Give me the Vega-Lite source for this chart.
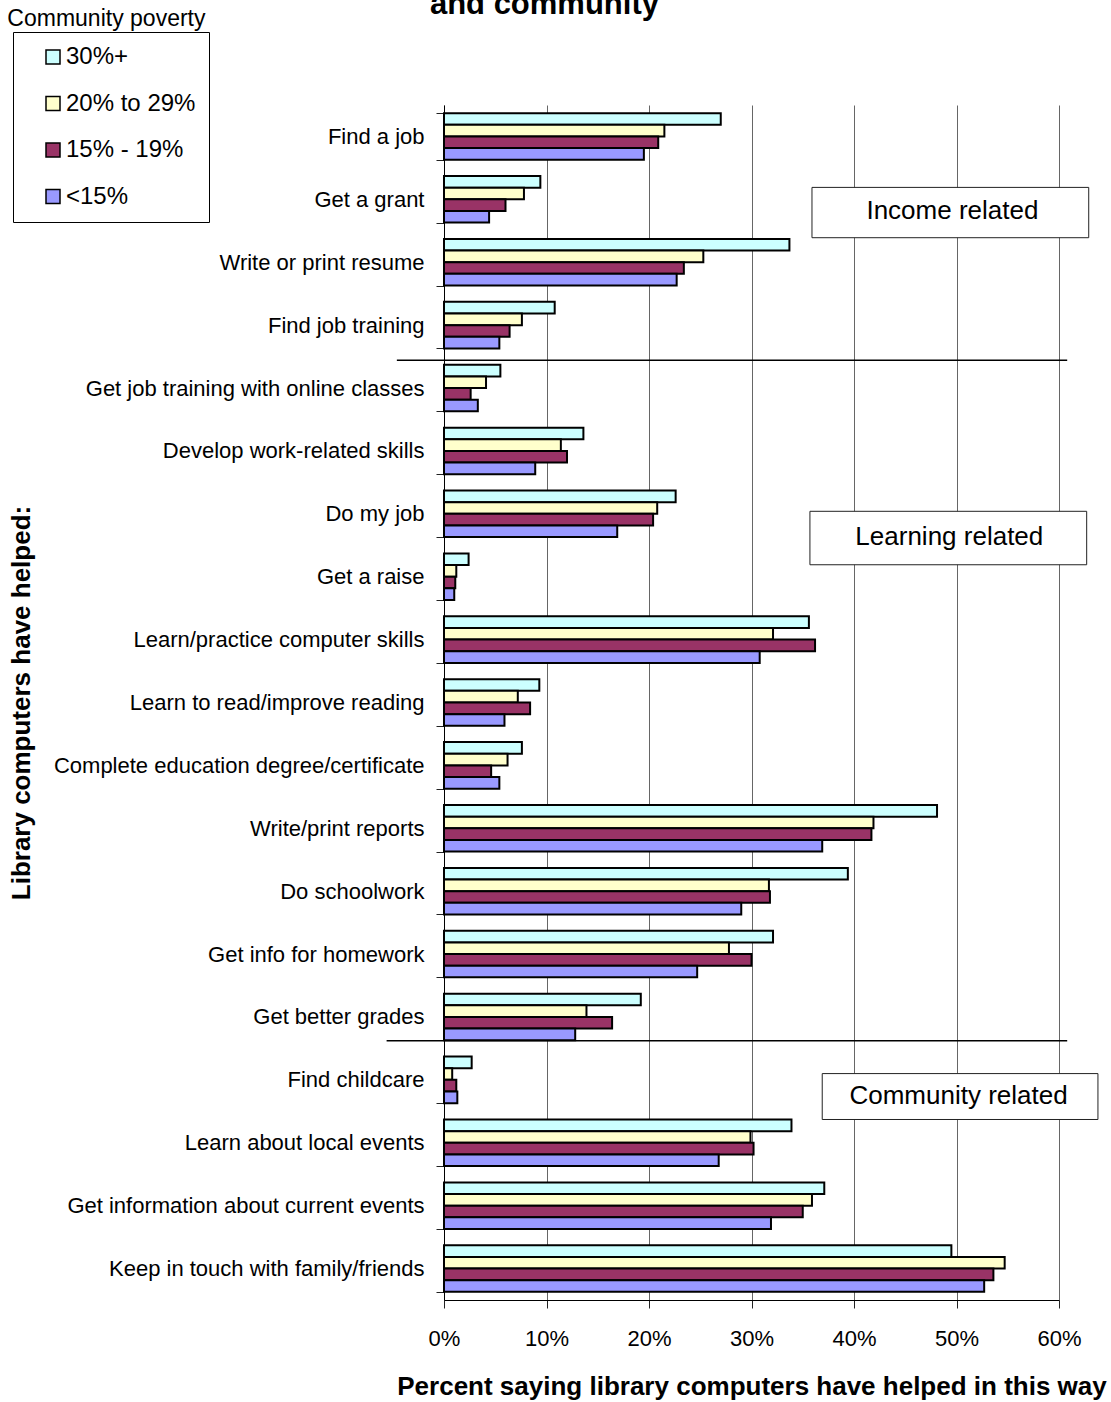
{
  "$schema": "https://vega.github.io/schema/vega-lite/v6.json",
  "width": 615,
  "height": 1195,
  "autosize": {"type": "none"},
  "padding": {"left": 444, "top": 105, "right": 52, "bottom": 102},
  "background": "white",
  "config": {
    "view": {"stroke": null},
    "font": "Liberation Sans"
  },
  "data": {
    "values": [
      {"activity": "Find a job", "group": "30%+", "pct": 27.0},
      {"activity": "Find a job", "group": "20% to 29%", "pct": 21.5},
      {"activity": "Find a job", "group": "15% - 19%", "pct": 20.9},
      {"activity": "Find a job", "group": "<15%", "pct": 19.5},
      {"activity": "Get a grant", "group": "30%+", "pct": 9.4},
      {"activity": "Get a grant", "group": "20% to 29%", "pct": 7.8},
      {"activity": "Get a grant", "group": "15% - 19%", "pct": 6.0},
      {"activity": "Get a grant", "group": "<15%", "pct": 4.4},
      {"activity": "Write or print resume", "group": "30%+", "pct": 33.7},
      {"activity": "Write or print resume", "group": "20% to 29%", "pct": 25.3},
      {"activity": "Write or print resume", "group": "15% - 19%", "pct": 23.4},
      {"activity": "Write or print resume", "group": "<15%", "pct": 22.7},
      {"activity": "Find job training", "group": "30%+", "pct": 10.8},
      {"activity": "Find job training", "group": "20% to 29%", "pct": 7.6},
      {"activity": "Find job training", "group": "15% - 19%", "pct": 6.4},
      {"activity": "Find job training", "group": "<15%", "pct": 5.4},
      {"activity": "Get job training with online classes", "group": "30%+", "pct": 5.5},
      {"activity": "Get job training with online classes", "group": "20% to 29%", "pct": 4.1},
      {"activity": "Get job training with online classes", "group": "15% - 19%", "pct": 2.6},
      {"activity": "Get job training with online classes", "group": "<15%", "pct": 3.3},
      {"activity": "Develop work-related skills", "group": "30%+", "pct": 13.6},
      {"activity": "Develop work-related skills", "group": "20% to 29%", "pct": 11.4},
      {"activity": "Develop work-related skills", "group": "15% - 19%", "pct": 12.0},
      {"activity": "Develop work-related skills", "group": "<15%", "pct": 8.9},
      {"activity": "Do my job", "group": "30%+", "pct": 22.6},
      {"activity": "Do my job", "group": "20% to 29%", "pct": 20.8},
      {"activity": "Do my job", "group": "15% - 19%", "pct": 20.4},
      {"activity": "Do my job", "group": "<15%", "pct": 16.9},
      {"activity": "Get a raise", "group": "30%+", "pct": 2.4},
      {"activity": "Get a raise", "group": "20% to 29%", "pct": 1.2},
      {"activity": "Get a raise", "group": "15% - 19%", "pct": 1.1},
      {"activity": "Get a raise", "group": "<15%", "pct": 1.0},
      {"activity": "Learn/practice computer skills", "group": "30%+", "pct": 35.6},
      {"activity": "Learn/practice computer skills", "group": "20% to 29%", "pct": 32.1},
      {"activity": "Learn/practice computer skills", "group": "15% - 19%", "pct": 36.2},
      {"activity": "Learn/practice computer skills", "group": "<15%", "pct": 30.8},
      {"activity": "Learn to read/improve reading", "group": "30%+", "pct": 9.3},
      {"activity": "Learn to read/improve reading", "group": "20% to 29%", "pct": 7.2},
      {"activity": "Learn to read/improve reading", "group": "15% - 19%", "pct": 8.4},
      {"activity": "Learn to read/improve reading", "group": "<15%", "pct": 5.9},
      {"activity": "Complete education degree/certificate", "group": "30%+", "pct": 7.6},
      {"activity": "Complete education degree/certificate", "group": "20% to 29%", "pct": 6.2},
      {"activity": "Complete education degree/certificate", "group": "15% - 19%", "pct": 4.6},
      {"activity": "Complete education degree/certificate", "group": "<15%", "pct": 5.4},
      {"activity": "Write/print reports", "group": "30%+", "pct": 48.1},
      {"activity": "Write/print reports", "group": "20% to 29%", "pct": 41.9},
      {"activity": "Write/print reports", "group": "15% - 19%", "pct": 41.7},
      {"activity": "Write/print reports", "group": "<15%", "pct": 36.9},
      {"activity": "Do schoolwork", "group": "30%+", "pct": 39.4},
      {"activity": "Do schoolwork", "group": "20% to 29%", "pct": 31.7},
      {"activity": "Do schoolwork", "group": "15% - 19%", "pct": 31.8},
      {"activity": "Do schoolwork", "group": "<15%", "pct": 29.0},
      {"activity": "Get info for homework", "group": "30%+", "pct": 32.1},
      {"activity": "Get info for homework", "group": "20% to 29%", "pct": 27.8},
      {"activity": "Get info for homework", "group": "15% - 19%", "pct": 30.0},
      {"activity": "Get info for homework", "group": "<15%", "pct": 24.7},
      {"activity": "Get better grades", "group": "30%+", "pct": 19.2},
      {"activity": "Get better grades", "group": "20% to 29%", "pct": 13.9},
      {"activity": "Get better grades", "group": "15% - 19%", "pct": 16.4},
      {"activity": "Get better grades", "group": "<15%", "pct": 12.8},
      {"activity": "Find childcare", "group": "30%+", "pct": 2.7},
      {"activity": "Find childcare", "group": "20% to 29%", "pct": 0.8},
      {"activity": "Find childcare", "group": "15% - 19%", "pct": 1.2},
      {"activity": "Find childcare", "group": "<15%", "pct": 1.3},
      {"activity": "Learn about local events", "group": "30%+", "pct": 33.9},
      {"activity": "Learn about local events", "group": "20% to 29%", "pct": 29.9},
      {"activity": "Learn about local events", "group": "15% - 19%", "pct": 30.2},
      {"activity": "Learn about local events", "group": "<15%", "pct": 26.8},
      {"activity": "Get information about current events", "group": "30%+", "pct": 37.1},
      {"activity": "Get information about current events", "group": "20% to 29%", "pct": 35.9},
      {"activity": "Get information about current events", "group": "15% - 19%", "pct": 35.0},
      {"activity": "Get information about current events", "group": "<15%", "pct": 31.9},
      {"activity": "Keep in touch with family/friends", "group": "30%+", "pct": 49.5},
      {"activity": "Keep in touch with family/friends", "group": "20% to 29%", "pct": 54.7},
      {"activity": "Keep in touch with family/friends", "group": "15% - 19%", "pct": 53.6},
      {"activity": "Keep in touch with family/friends", "group": "<15%", "pct": 52.7}
    ]
  },
  "resolve": {"scale": {"y": "independent"}, "axis": {"y": "independent"}},
  "layer": [
    {
      "mark": {"type": "bar", "stroke": "black", "strokeWidth": 2},
      "encoding": {
        "y": {
          "field": "activity",
          "type": "nominal",
          "sort": null,
          "scale": {"paddingInner": 0.26, "paddingOuter": 0.13},
          "axis": {
            "title": "Library computers have helped:",
            "titleFont": "Liberation Sans",
            "titleFontSize": 26,
            "titleFontWeight": "bold",
            "titleColor": "black",
            "titlePadding": 19,
            "maxExtent": 500,
            "labelFont": "Liberation Sans",
            "labelFontSize": 22,
            "labelColor": "black",
            "labelLimit": 600,
            "labelPadding": 12,
            "tickSize": 8,
            "tickColor": "#222",
            "tickBand": "extent",
            "domainColor": "black",
            "grid": false
          }
        },
        "yOffset": {
          "field": "group",
          "type": "nominal",
          "sort": ["30%+", "20% to 29%", "15% - 19%", "<15%"],
          "scale": {"paddingInner": 0, "paddingOuter": 0}
        },
        "x": {
          "field": "pct",
          "type": "quantitative",
          "scale": {"domain": [0, 60], "nice": false},
          "axis": {
            "values": [0, 10, 20, 30, 40, 50, 60],
            "labelExpr": "datum.value + '%'",
            "title": "Percent saying library computers have helped in this way",
            "titleFont": "Liberation Sans",
            "titleFontSize": 26,
            "titleFontWeight": "bold",
            "titleColor": "black",
            "titlePadding": 24,
            "labelFont": "Liberation Sans",
            "labelFontSize": 22,
            "labelColor": "black",
            "labelPadding": 20,
            "labelFlush": false,
            "labelOverlap": false,
            "tickSize": 8,
            "tickColor": "#222",
            "domainColor": "black",
            "grid": true,
            "gridColor": "#666",
            "gridWidth": 1
          }
        },
        "color": {
          "field": "group",
          "type": "nominal",
          "sort": ["30%+", "20% to 29%", "15% - 19%", "<15%"],
          "scale": {
            "domain": ["30%+", "20% to 29%", "15% - 19%", "<15%"],
            "range": ["#CCFFFF", "#FFFFCC", "#993366", "#9999FF"]
          },
          "legend": {
            "orient": "none",
            "legendX": -431,
            "legendY": -73,
            "title": null,
            "direction": "vertical",
            "strokeColor": "black",
            "fillColor": "white",
            "padding": 13,
            "symbolType": "square",
            "symbolSize": 196,
            "symbolStrokeColor": "black",
            "symbolStrokeWidth": 1.5,
            "symbolOpacity": 1,
            "symbolOffset": 15,
            "labelOffset": 1,
            "labelFont": "Liberation Sans",
            "labelFontSize": 24,
            "labelColor": "black",
            "rowPadding": 22.5
          }
        }
      }
    },
    {
      "data": {"values": [{}]},
      "mark": {"type": "rule", "stroke": "black", "strokeWidth": 1.5},
      "encoding": {
        "x": {"datum": -4.6, "type": "quantitative", "scale": {"domain": [0, 60], "nice": false}},
        "x2": {"datum": 60.8},
        "y": {"datum": 4.06, "type": "quantitative", "scale": {"domain": [0, 19], "reverse": true, "nice": false, "zero": false}, "axis": null}
      }
    },
    {
      "data": {"values": [{}]},
      "mark": {"type": "rule", "stroke": "black", "strokeWidth": 1.5},
      "encoding": {
        "x": {"datum": -5.6, "type": "quantitative", "scale": {"domain": [0, 60], "nice": false}},
        "x2": {"datum": 60.8},
        "y": {"datum": 14.88, "type": "quantitative", "scale": {"domain": [0, 19], "reverse": true, "nice": false, "zero": false}, "axis": null}
      }
    },
    {
      "data": {"values": [{}]},
      "mark": {"type": "rect", "fill": "white", "stroke": "#222", "strokeWidth": 1},
      "encoding": {
        "x": {"datum": 35.9, "type": "quantitative", "scale": {"domain": [0, 60], "nice": false}},
        "x2": {"datum": 62.9},
        "y": {"datum": 1.31, "type": "quantitative", "scale": {"domain": [0, 19], "reverse": true, "nice": false, "zero": false}, "axis": null},
        "y2": {"datum": 2.11}
      }
    },
    {
      "data": {"values": [{}]},
      "mark": {"type": "text", "text": "Income related", "font": "Liberation Sans", "fontSize": 26, "color": "black", "align": "center", "baseline": "middle"},
      "encoding": {
        "x": {"datum": 49.6, "type": "quantitative", "scale": {"domain": [0, 60], "nice": false}},
        "y": {"datum": 1.69, "type": "quantitative", "scale": {"domain": [0, 19], "reverse": true, "nice": false, "zero": false}, "axis": null}
      }
    },
    {
      "data": {"values": [{}]},
      "mark": {"type": "rect", "fill": "white", "stroke": "#222", "strokeWidth": 1},
      "encoding": {
        "x": {"datum": 35.7, "type": "quantitative", "scale": {"domain": [0, 60], "nice": false}},
        "x2": {"datum": 62.7},
        "y": {"datum": 6.46, "type": "quantitative", "scale": {"domain": [0, 19], "reverse": true, "nice": false, "zero": false}, "axis": null},
        "y2": {"datum": 7.31}
      }
    },
    {
      "data": {"values": [{}]},
      "mark": {"type": "text", "text": "Learning related", "font": "Liberation Sans", "fontSize": 26, "color": "black", "align": "center", "baseline": "middle"},
      "encoding": {
        "x": {"datum": 49.3, "type": "quantitative", "scale": {"domain": [0, 60], "nice": false}},
        "y": {"datum": 6.87, "type": "quantitative", "scale": {"domain": [0, 19], "reverse": true, "nice": false, "zero": false}, "axis": null}
      }
    },
    {
      "data": {"values": [{}]},
      "mark": {"type": "rect", "fill": "white", "stroke": "#222", "strokeWidth": 1},
      "encoding": {
        "x": {"datum": 36.9, "type": "quantitative", "scale": {"domain": [0, 60], "nice": false}},
        "x2": {"datum": 63.8},
        "y": {"datum": 15.4, "type": "quantitative", "scale": {"domain": [0, 19], "reverse": true, "nice": false, "zero": false}, "axis": null},
        "y2": {"datum": 16.13}
      }
    },
    {
      "data": {"values": [{}]},
      "mark": {"type": "text", "text": "Community related", "font": "Liberation Sans", "fontSize": 26, "color": "black", "align": "center", "baseline": "middle"},
      "encoding": {
        "x": {"datum": 50.2, "type": "quantitative", "scale": {"domain": [0, 60], "nice": false}},
        "y": {"datum": 15.76, "type": "quantitative", "scale": {"domain": [0, 19], "reverse": true, "nice": false, "zero": false}, "axis": null}
      }
    },
    {
      "data": {"values": [{}]},
      "mark": {"type": "text", "text": "Community poverty", "font": "Liberation Sans", "fontSize": 23, "color": "black", "align": "left", "baseline": "alphabetic"},
      "encoding": {
        "x": {"datum": -42.6, "type": "quantitative", "scale": {"domain": [0, 60], "nice": false}},
        "y": {"datum": -1.253, "type": "quantitative", "scale": {"domain": [0, 19], "reverse": true, "nice": false, "zero": false}, "axis": null}
      }
    },
    {
      "data": {"values": [{}]},
      "mark": {"type": "text", "text": "and community", "font": "Liberation Sans", "fontSize": 31, "fontWeight": "bold", "color": "black", "align": "center", "baseline": "alphabetic"},
      "encoding": {
        "x": {"datum": 9.8, "type": "quantitative", "scale": {"domain": [0, 60], "nice": false}},
        "y": {"datum": -1.44, "type": "quantitative", "scale": {"domain": [0, 19], "reverse": true, "nice": false, "zero": false}, "axis": null}
      }
    }
  ]
}
